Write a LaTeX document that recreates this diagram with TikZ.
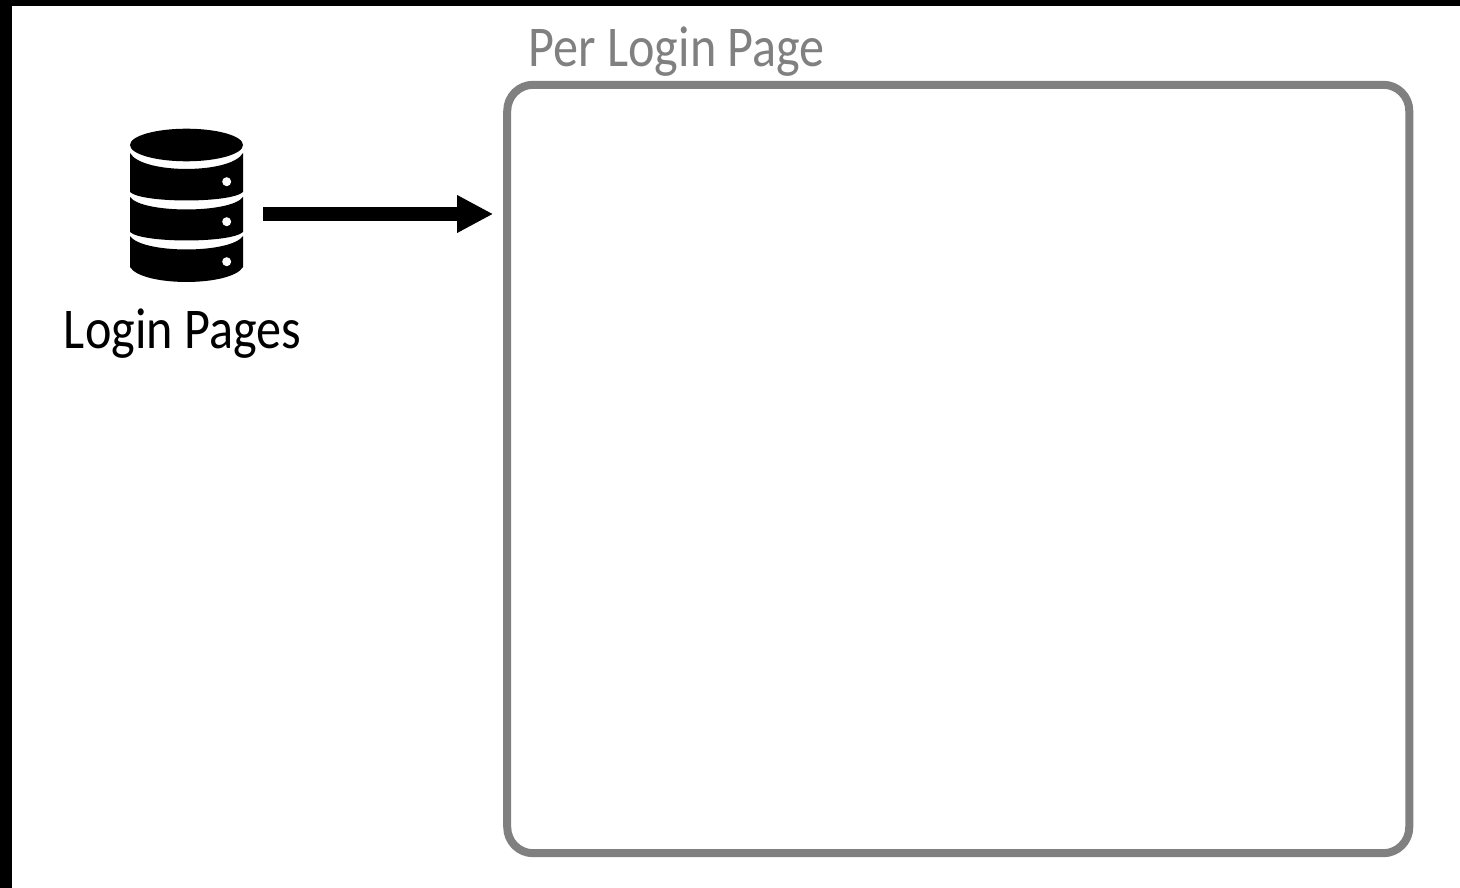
\documentclass[tikz,border=0pt]{standalone}
\usepackage{fontspec}
\setmainfont[FakeStretch=0.87]{Carlito}
\usetikzlibrary{arrows.meta}

\definecolor{framegray}{RGB}{128,128,128}
\tikzset{
    pagebox/.style={draw=framegray,line width=0.08cm,rounded corners=0.26cm,
        minimum width=9.015cm,minimum height=7.68cm,inner sep=0pt,outer sep=0pt},
    dbnode/.style={minimum width=1.13cm,minimum height=1.36cm,inner sep=0pt,outer sep=0pt},
    flow/.style={line width=0.13cm,-{Triangle[length=0.36cm,width=0.35cm]}},
    boxlabel/.style={text=framegray,font=\fontsize{16.4}{18}\selectfont,inner sep=0pt},
    dblabel/.style={text=black,font=\fontsize{16.4}{18}\selectfont,inner sep=0pt}
}

\begin{document}
\begin{tikzpicture}[x=0.01cm,y=-0.01cm]
\useasboundingbox (0,0) rectangle (1460,888);
\fill[black] (0,0) rectangle (1460,888);
\fill[white] (12,6) rectangle (1460,888);

% database icon
\fill (186.5,145) ellipse [x radius=56.5,y radius=16.3];
\foreach \a/\b/\c/\d/\e in {153/169/192/200.5/181.7, 197/209.5/232/240.5/221.7, 236/249.5/267/282/261.7} {
    \fill (130,\a) .. controls (142,{\b+(\b-\a)*0.33}) and (231,{\b+(\b-\a)*0.33}) .. (243,\a)
        -- (243,\c) .. controls (231,{\d+(\d-\c)*0.33}) and (142,{\d+(\d-\c)*0.33}) .. (130,\c) -- cycle;
    \fill[white] (226.7,\e) circle [radius=4.5];
}

\node[dbnode] (db) at (186.5,214) {};
\node[pagebox] (page) at (958.25,469) {};
\node[dblabel,anchor=base] (dbtext) at (182.5,349) {Login Pages};
\node[boxlabel,anchor=base west] (pagetext) at (528,67) {Per Login Page};

\draw[flow,shorten <=0.2cm,shorten >=0.14cm] (db.east) -- (db.east -| page.west);

\end{tikzpicture}
\end{document}
